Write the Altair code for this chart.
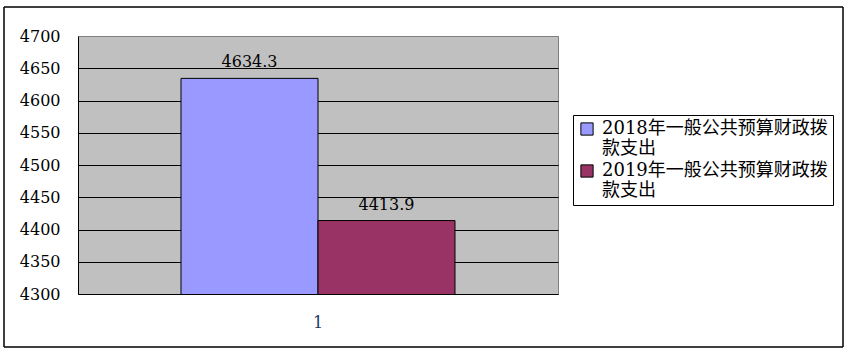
import altair as alt
import pandas as pd

categories = ["1", "1"]
series = ["2018年一般公共预算财政拨款支出", "2019年一般公共预算财政拨款支出"]
values = [4634.3, 4413.9]
colors = ["#9999FF", "#993366"]
y_ticks = [4300, 4350, 4400, 4450, 4500, 4550, 4600, 4650, 4700]

df = pd.DataFrame({"cat": categories, "series": series, "value": values})

FONT = "DejaVu Serif, Noto Sans CJK SC, serif"

x_enc = alt.X("cat:N", title=None,
              scale=alt.Scale(paddingOuter=0.376, paddingInner=0),
              axis=alt.Axis(labelAngle=0, labelFont=FONT, labelFontSize=16,
                            labelColor="#1F3864", labelPadding=20, ticks=False,
                            domainColor="black", domainWidth=1, zindex=1))
xo_enc = alt.XOffset("series:N", scale=alt.Scale(paddingInner=0, paddingOuter=0))
y_enc = alt.Y("value:Q", title=None,
              scale=alt.Scale(domain=[4300, 4700], nice=False, zero=False),
              axis=alt.Axis(values=y_ticks, format="d", labelOverlap=False,
                            labelFont=FONT, labelFontSize=16,
                            labelColor="black", labelPadding=18, ticks=False,
                            domainColor="black", domainWidth=1,
                            grid=True,
                            gridColor={"condition": {"test": "datum.value == 4700", "value": "#808080"}, "value": "black"},
                            gridWidth=1, gridOpacity=1))

base = alt.Chart(df)

bars = base.mark_bar(stroke="black", strokeWidth=1, clip=True).encode(
    x=x_enc, xOffset=xo_enc, y=y_enc,
    color=alt.Color("series:N",
                    scale=alt.Scale(domain=series, range=colors),
                    legend=alt.Legend(title=None, orient="none", legendX=495, legendY=79,
                                      strokeColor="black", fillColor="white", padding=5,
                                      symbolType="square", symbolSize=150,
                                      symbolStrokeColor="black", symbolStrokeWidth=1,
                                      labelFont=FONT, labelFontSize=18, labelColor="black",
                                      labelLimit=400, rowPadding=4, labelOffset=6,
                                      labelExpr="[substring(datum.label,0,14), substring(datum.label,14)]")),
)

labels = base.mark_text(font=FONT, fontSize=16, color="black", baseline="bottom", dy=-8).encode(
    x=x_enc, xOffset=xo_enc, y=y_enc,
    text=alt.Text("value:Q", format=".1f"),
)

frame = base.mark_rect(fill=None, stroke="black", strokeWidth=1).encode(
    x=alt.value(-74), x2=alt.value(765), y=alt.value(-29), y2=alt.value(311)
)

chart = alt.layer(bars, labels, frame).properties(
    width=480, height=258,
    background="white",
    autosize=alt.AutoSizeParams(type="none"),
    padding={"left": 78, "top": 36, "right": 293, "bottom": 63},
).configure_view(fill="#C0C0C0", stroke="#808080", strokeWidth=1)

chart.save("out.html", embed_options={"renderer": "svg", "actions": False})
